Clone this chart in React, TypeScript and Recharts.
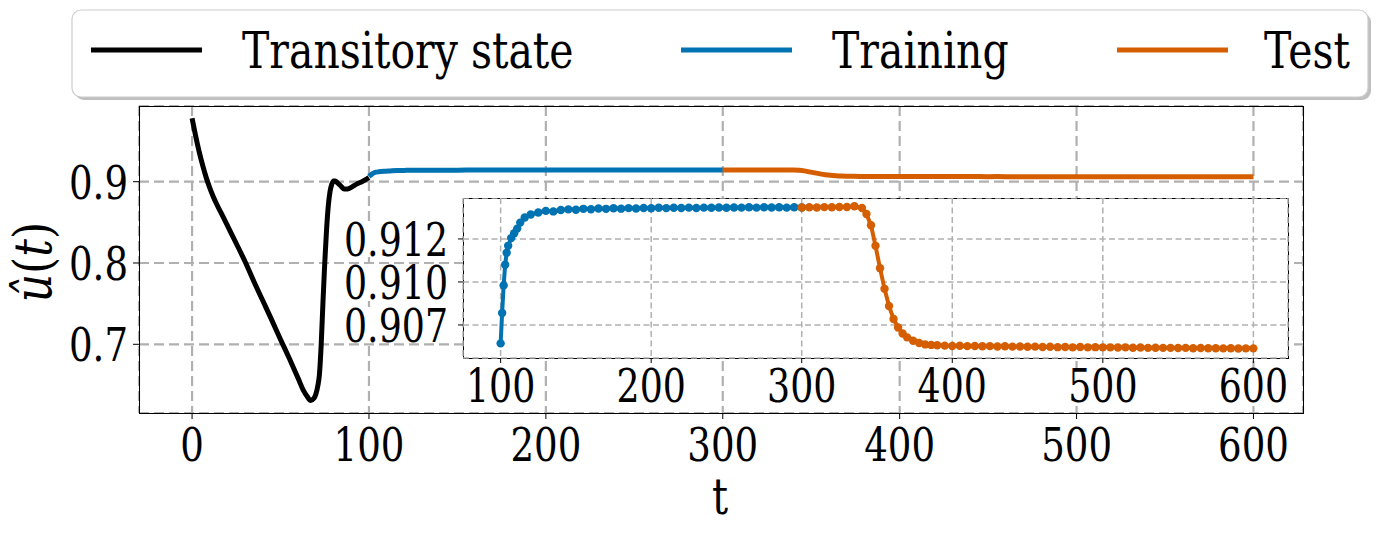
import { LineChart, Line, XAxis, YAxis, CartesianGrid } from 'recharts';

// DejaVu Serif squeezed horizontally stands in for Computer Modern
const SERIF = "'DejaVu Serif', serif";
const SQUEEZE = 0.79;
const BLACK = '#000000';
const BLUE = '#0173b2';
const ORANGE = '#d55e00';
const GRID = '#b0b0b0';

// transitory state, t = 0 .. 100
const transT = [0, 2, 4, 6, 8, 10, 12, 14, 17.5, 20, 25, 30, 35, 40, 45, 50, 55, 60, 63, 65, 67, 69, 70, 71, 72, 73, 74, 75, 76, 77, 78, 79, 80, 81, 82, 84, 86, 88, 90, 93, 96, 100];
const transU = [0.978, 0.9565, 0.937, 0.92, 0.905, 0.8925, 0.8815, 0.872, 0.857, 0.846, 0.824, 0.8015, 0.777, 0.7535, 0.73, 0.706, 0.6825, 0.658, 0.643, 0.636, 0.631, 0.634, 0.639, 0.648, 0.663, 0.7, 0.752, 0.8, 0.84, 0.87, 0.888, 0.897, 0.901, 0.901, 0.899, 0.895, 0.891, 0.891, 0.893, 0.897, 0.9, 0.905];

// training, t = 100 .. 300
const trainT = [100, 101, 102, 103, 104, 105, 107, 109, 111, 113, 116, 120, 125, 130, 135, 140, 145, 150, 155, 160, 165, 170, 175, 180, 185, 190, 195, 200, 205, 210, 215, 220, 225, 230, 235, 240, 245, 250, 255, 260, 265, 270, 275, 280, 285, 290, 295, 300];
const trainU = [0.90643, 0.9082, 0.9098, 0.911, 0.9117, 0.9121, 0.91255, 0.91283, 0.9131, 0.91345, 0.91375, 0.91392, 0.91404, 0.91413, 0.9141, 0.91418, 0.91422, 0.9142, 0.91425, 0.91423, 0.91427, 0.91425, 0.91428, 0.91426, 0.91429, 0.91427, 0.9143, 0.91428, 0.91431, 0.91429, 0.91431, 0.9143, 0.91432, 0.9143, 0.91432, 0.91431, 0.91433, 0.91431, 0.91433, 0.91432, 0.91434, 0.91432, 0.91434, 0.91433, 0.91434, 0.91432, 0.91434, 0.91433];

// test, t = 300 .. 600
const testT = [300, 305, 310, 315, 320, 325, 330, 335, 340, 343, 346, 349, 352, 355, 358, 361, 364, 367, 370, 374, 378, 382, 386, 390, 395, 400, 405, 410, 415, 420, 425, 430, 435, 440, 445, 450, 455, 460, 465, 470, 475, 480, 485, 490, 495, 500, 505, 510, 515, 520, 525, 530, 535, 540, 545, 550, 555, 560, 565, 570, 575, 580, 585, 590, 595, 600];
const testU = [0.91433, 0.91434, 0.91433, 0.91435, 0.91434, 0.91436, 0.91436, 0.9144, 0.9143, 0.91395, 0.9133, 0.9121, 0.9108, 0.9096, 0.9086, 0.90785, 0.90735, 0.907, 0.90678, 0.90658, 0.90645, 0.90637, 0.90634, 0.90632, 0.9063, 0.90628, 0.90629, 0.90627, 0.90628, 0.90626, 0.90627, 0.90625, 0.90626, 0.90624, 0.90625, 0.90623, 0.90624, 0.90622, 0.90623, 0.90621, 0.90622, 0.9062, 0.90622, 0.9062, 0.90621, 0.9062, 0.9062, 0.90619, 0.9062, 0.90618, 0.90619, 0.90617, 0.90618, 0.90617, 0.90617, 0.90616, 0.90617, 0.90615, 0.90616, 0.90615, 0.90615, 0.90614, 0.90615, 0.90613, 0.90614, 0.90614];

const mainXTicks = [0, 100, 200, 300, 400, 500, 600];
const mainYTicks = [0.7, 0.8, 0.9];
const insetXTicks = [100, 200, 300, 400, 500, 600];
const insetYTicks = [0.9075, 0.91, 0.9125];
const insetYTickLabels = ['0.907', '0.910', '0.912'];

const legendItems = [
  { name: 'Transitory state', color: BLACK },
  { name: 'Training', color: BLUE },
  { name: 'Test', color: ORANGE },
];

const toRows = (ts: number[], us: number[]) => ts.map((t, i) => ({ t, u: us[i] }));
const transData = toRows(transT, transU);
const trainData = toRows(trainT, trainU);
const testData = toRows(testT, testU);

function SText({ x, y, anchor = 'start', size = 46, sx = SQUEEZE, children }: any) {
  return (
    <text
      transform={`translate(${x},${y}) scale(${sx},1)`}
      textAnchor={anchor}
      fontSize={size}
      fill="#000"
      style={{ fontFamily: SERIF }}
    >
      {children}
    </text>
  );
}

function MainXTick({ x, y, payload }: any) {
  return <SText x={x} y={y + 34} anchor="middle" size={47}>{payload.value}</SText>;
}

function MainYTick({ x, y, payload }: any) {
  return <SText x={x} y={y + 17} anchor="end" size={47}>{String(payload.value)}</SText>;
}

// inset tick labels sit on a white box, like the original
function InsetYTick({ x, y, payload }: any) {
  const label = insetYTickLabels[insetYTicks.indexOf(payload.value)];
  return (
    <g>
      <rect x={x - 108} y={y - 18} width={108} height={36} fill="#fff" />
      <SText x={x} y={y + 17} anchor="end">{label}</SText>
    </g>
  );
}

function InsetXTick({ x, y, payload }: any) {
  return (
    <g>
      <rect x={x - 36} y={y} width={72} height={36} fill="#fff" />
      <SText x={x} y={y + 34} anchor="middle">{payload.value}</SText>
    </g>
  );
}

function LegendBox() {
  const handleX = [91, 681, 1117];
  const textX = [242, 832, 1264];
  return (
    <svg width={1382} height={110} style={{ position: 'absolute', left: 0, top: 0 }}>
      <rect x={75} y={13} width={1296} height={87} rx={9} fill="#7f7f7f" opacity={0.5} />
      <rect x={72} y={10} width={1296} height={87} rx={9} fill="#fff" stroke="#cccccc" strokeWidth={1.2} />
      {legendItems.map((it, i) => (
        <g key={it.name}>
          <line x1={handleX[i]} x2={handleX[i] + 111} y1={50} y2={50} stroke={it.color} strokeWidth={4.8} />
          <SText x={textX[i]} y={68} size={50} sx={0.82}>{it.name}</SText>
        </g>
      ))}
    </svg>
  );
}

export default function App() {
  return (
    <div style={{ position: 'absolute', left: 0, top: 0, width: 1382, height: 533, background: '#fff' }}>
      <LineChart width={1382} height={533} margin={{ top: 106, right: 79, bottom: 0, left: 0 }}>
        <CartesianGrid stroke={GRID} strokeWidth={2.2} strokeDasharray="10 5" />
        <XAxis
          type="number"
          dataKey="t"
          domain={[-30, 628]}
          allowDataOverflow
          ticks={mainXTicks}
          interval={0}
          height={120}
          axisLine={false}
          tickLine={{ stroke: '#000' }}
          tickSize={6}
          tickMargin={8}
          tick={<MainXTick />}
        />
        <YAxis
          type="number"
          dataKey="u"
          domain={[0.6155, 0.9931]}
          allowDataOverflow
          ticks={mainYTicks}
          interval={0}
          width={139}
          axisLine={false}
          tickLine={{ stroke: '#000' }}
          tickSize={6}
          tickMargin={5}
          tick={<MainYTick />}
        />
        <Line data={transData} dataKey="u" type="monotone" stroke={BLACK} strokeWidth={5} dot={false} isAnimationActive={false} />
        <Line data={trainData} dataKey="u" type="monotone" stroke={BLUE} strokeWidth={5} dot={false} isAnimationActive={false} />
        <Line data={testData} dataKey="u" type="monotone" stroke={ORANGE} strokeWidth={5} dot={false} isAnimationActive={false} />
      </LineChart>

      {/* main axes frame */}
      <div style={{ position: 'absolute', left: 139, top: 106, width: 1165, height: 308, border: '1.2px solid #000', boxSizing: 'border-box', pointerEvents: 'none' }} />

      {/* inset background + frame */}
      <div style={{ position: 'absolute', left: 463, top: 198, width: 826, height: 161, border: '1.2px solid #000', boxSizing: 'border-box', background: '#fff' }} />
      <div style={{ position: 'absolute', left: 323, top: 198 }}>
        <LineChart width={1000} height={215} margin={{ top: 0, right: 35, bottom: 0, left: 0 }}>
          <CartesianGrid stroke={GRID} strokeWidth={1.5} strokeDasharray="6 3.5" />
          <XAxis
            type="number"
            dataKey="t"
            domain={[75, 623]}
            allowDataOverflow
            ticks={insetXTicks}
            interval={0}
            height={55}
            axisLine={false}
            tickLine={{ stroke: '#000' }}
            tickSize={5}
            tickMargin={5}
            tick={<InsetXTick />}
          />
          <YAxis
            type="number"
            dataKey="u"
            domain={[0.90558, 0.91488]}
            allowDataOverflow
            ticks={insetYTicks}
            interval={0}
            width={140}
            axisLine={false}
            tickLine={{ stroke: '#000' }}
            tickSize={5}
            tickMargin={10}
            tick={<InsetYTick />}
          />
          <Line data={trainData} dataKey="u" type="linear" stroke={BLUE} strokeWidth={4} dot={{ r: 4.2, fill: BLUE, stroke: 'none' }} isAnimationActive={false} />
          <Line data={testData} dataKey="u" type="linear" stroke={ORANGE} strokeWidth={4} dot={{ r: 4.2, fill: ORANGE, stroke: 'none' }} isAnimationActive={false} />
        </LineChart>
      </div>

      {/* axis titles */}
      <svg width={1382} height={533} style={{ position: 'absolute', left: 0, top: 0, pointerEvents: 'none' }}>
        <SText x={720} y={514} anchor="middle" size={50} sx={0.8}>t</SText>
        <g transform="translate(51,262) rotate(-90)">
          <text transform="scale(0.85,1)" textAnchor="middle" fontSize={52} fill="#000" style={{ fontFamily: SERIF }}>
            <tspan fontStyle="italic">û</tspan>
            <tspan>(</tspan>
            <tspan fontStyle="italic">t</tspan>
            <tspan>)</tspan>
          </text>
        </g>
      </svg>

      <LegendBox />
    </div>
  );
}
